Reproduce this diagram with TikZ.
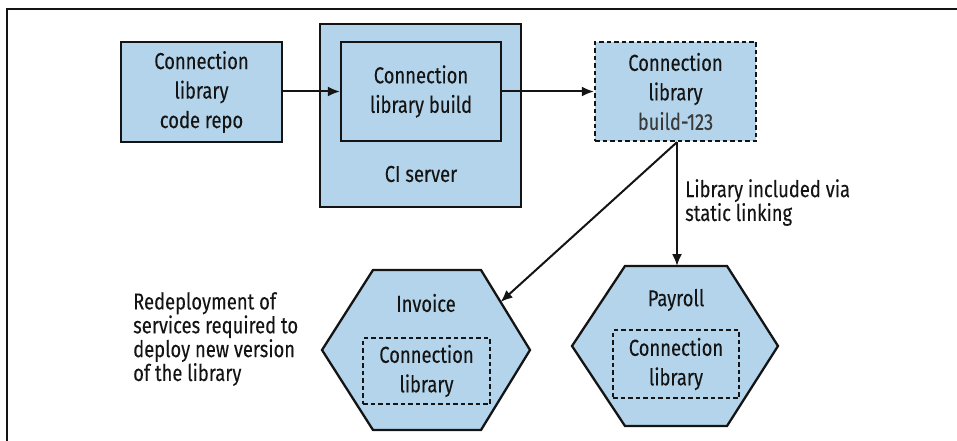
\documentclass[tikz,border=0pt]{standalone}
\usepackage{fontspec}
\setmainfont{Fira Sans}[FakeStretch=0.8,FakeBold=0.12]
\usetikzlibrary{arrows.meta,calc}
\definecolor{boxblue}{HTML}{B3D4EA}
\definecolor{ink}{HTML}{141414}
\definecolor{subgray}{HTML}{3A3A3A}
\tikzset{
  box/.style={draw=ink,line width=2.3pt,fill=boxblue,minimum width=#1,inner sep=0pt},
  solidbox/.style={box=#1},
  dashbox/.style={box=#1,dash pattern=on 4.5pt off 3pt},
  inbox/.style={draw=ink,line width=2.1pt,dash pattern=on 4.5pt off 3pt,minimum width=#1,inner sep=0pt},
  hexa/.style={draw=ink,line width=2.3pt,fill=boxblue,line join=miter},
  conn/.style={draw=ink,line width=2pt,-{Latex[length=12pt,width=10pt]}},
  txt/.style={font=\fontsize{23}{29.5}\selectfont,text=ink,align=center},
  note/.style={font=\fontsize{23}{21.5}\selectfont,text=ink,align=left,inner sep=0pt}
}
\begin{document}
\begin{tikzpicture}[x=1pt,y=-1pt]
\useasboundingbox (0,0) rectangle (957,441);
% frame edges
\draw[ink,line width=1.6pt] (7,441) -- (7,9) -- (957,9);
% code repo
\node[solidbox=161pt,minimum height=100pt,txt] (repo) at (201.5,92) {Connection\\library\\code repo};
% CI server
\node[solidbox=201pt,minimum height=183pt] (ci) at (420.5,115.5) {};
\node[solidbox=160pt,minimum height=99pt,txt] (build) at (421,91.5) {Connection\\library build};
\node[txt,anchor=center] (cilabel) at (421,174) {CI server};
% built artifact
\node[dashbox=161pt,minimum height=99pt,txt] (lib) at (675.5,91.5) {Connection\\library\\\textcolor{subgray}{build-123}};
% hexagons
\coordinate (i1) at (322,350); \coordinate (i2) at (373,270); \coordinate (i3) at (481,270);
\coordinate (i4) at (530,350); \coordinate (i5) at (481,430); \coordinate (i6) at (373,430);
\draw[hexa] (i1) -- (i2) -- (i3) -- (i4) -- (i5) -- (i6) -- cycle;
\coordinate (p1) at (572,346); \coordinate (p2) at (625,266); \coordinate (p3) at (727,266);
\coordinate (p4) at (778,346); \coordinate (p5) at (727,426); \coordinate (p6) at (625,426);
\draw[hexa] (p1) -- (p2) -- (p3) -- (p4) -- (p5) -- (p6) -- cycle;
\node[txt] (invoice) at (426,303) {Invoice};
\node[txt] (payroll) at (676,300) {Payroll};
\node[inbox=127pt,minimum height=66pt,txt] (invlib) at (426.5,371) {Connection\\library};
\node[inbox=126pt,minimum height=68pt,txt] (paylib) at (676,364) {Connection\\library};
% connectors
\coordinate (invtip) at ($(i3)!0.4!(i4)$);
\coordinate (paytop) at (677,266);
\coordinate (libout) at (lib.south -| paytop);
\draw[conn] (repo.east |- build.west) -- (build.west);
\draw[conn] (build.east) -- (lib.west);
\draw[conn] (libout) -- (paytop);
\draw[conn] (libout) -- (invtip);
% notes
\node[note,anchor=north west] (static) at (685,179) {Library included via\\static linking};
\node[note,anchor=north west] (redeploy) at (133,292) {Redeployment of\\services required to\\deploy new version\\of the library};
\end{tikzpicture}
\end{document}
